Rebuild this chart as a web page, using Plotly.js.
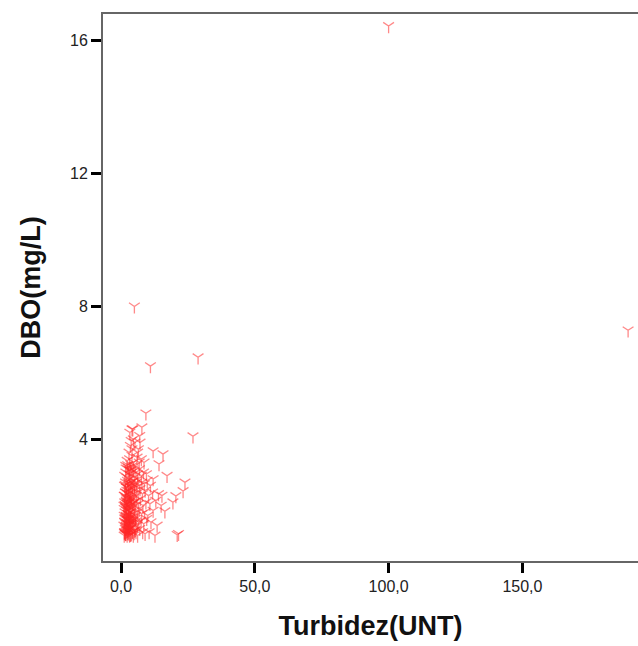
<!DOCTYPE html>
<html>
<head>
<meta charset="utf-8">
<script src="https://cdn.plot.ly/plotly-3.0.1.min.js"></script>
<style>
  html, body { margin: 0; padding: 0; background: #fff; }
  #chart { width: 638px; height: 646px; }
</style>
</head>
<body>
<div id="chart"></div>
<script>
// Turbidez (UNT) values
const turbidez = [
  // y ~1.1-1.3
  1.2,1.5,1.8,2.0,2.3,2.6,2.9,3.2,3.5,3.8,4.2,4.6,5.1,5.6,6.2,7.0,8.1,9.0,10.5,12.7,21.0,21.5,
  // y ~1.3-1.6
  1.1,1.4,1.7,2.1,2.4,2.7,3.0,3.3,3.7,4.0,4.4,4.9,5.4,6.0,6.6,7.5,8.5,9.6,11.2,13.5,
  // y ~1.6-1.9
  1.2,1.5,1.9,2.2,2.5,2.8,3.1,3.4,3.8,4.1,4.5,5.0,5.5,6.1,6.8,7.7,8.8,10.0,12.0,16.4,
  // y ~1.9-2.2
  1.1,1.4,1.8,2.0,2.3,2.6,3.0,3.3,3.6,4.0,4.3,4.8,5.3,5.9,6.5,7.2,8.2,9.3,10.8,13.0,15.0,19.4,
  // y ~2.2-2.5
  1.2,1.6,1.9,2.2,2.5,2.9,3.2,3.5,3.9,4.2,4.7,5.2,5.8,6.4,7.1,8.0,9.0,10.3,11.8,14.0,15.3,20.5,23.2,
  // y ~2.5-2.8
  1.3,1.7,2.0,2.4,2.7,3.0,3.4,3.8,4.1,4.6,5.1,5.7,6.3,7.0,7.8,8.7,9.8,11.0,12.0,
  // y ~2.8-3.1
  1.4,1.8,2.2,2.6,3.0,3.3,3.7,4.1,4.5,5.0,5.6,6.2,6.9,7.6,8.4,9.5,17.2,23.9,
  // y ~3.1-3.6
  1.8,2.3,2.8,3.2,3.6,4.1,4.7,5.3,6.0,6.8,7.6,8.6,14.2,15.7,12.0,
  // y ~3.6-4.4
  3.0,3.5,4.1,4.6,5.2,3.3,4.4,6.5,7.0,7.8,4.1,7.1,3.8,6.2,
  // dense core extra
  1.3,1.6,2.0,2.4,2.8,3.2,3.6,1.5,1.9,2.3,2.7,3.1,3.5,1.2,1.7,2.1,2.6,3.0,3.4,1.4,1.8,2.2,2.9,3.3,
  1.6,2.0,2.5,2.9,3.4,1.9,2.4,2.8,3.3,1.5,2.1,2.6,3.1,3.6,1.8,2.3,2.7,3.2,
  1.3,1.7,2.2,2.7,3.1,3.7,4.3,4.9,5.4,1.4,1.9,2.5,3.0,3.6,4.2,4.8,5.5,6.1,
  1.5,2.0,2.6,3.2,3.9,4.5,5.2,1.6,2.1,2.8,3.5,4.2,5.0,5.9,1.9,2.5,3.3,4.0,4.8,
  // outliers
  9.3,26.9,11.0,28.8,5.0,100.0,189.5
];

// DBO (mg/L) values
const dbo = [
  1.10,1.20,1.15,1.30,1.10,1.25,1.20,1.10,1.30,1.15,1.20,1.10,1.25,1.20,1.10,1.30,1.20,1.15,1.20,1.10,1.12,1.15,
  1.40,1.50,1.35,1.60,1.45,1.55,1.40,1.60,1.50,1.35,1.55,1.45,1.60,1.40,1.50,1.55,1.45,1.60,1.50,1.40,
  1.70,1.80,1.65,1.90,1.75,1.85,1.70,1.80,1.90,1.65,1.75,1.85,1.70,1.80,1.90,1.75,1.80,1.70,1.85,1.83,
  2.00,2.10,1.95,2.15,2.05,2.20,2.00,2.10,1.95,2.20,2.05,2.10,2.00,2.15,2.05,2.20,2.00,2.10,2.05,2.15,2.00,2.10,
  2.30,2.40,2.25,2.45,2.35,2.50,2.30,2.40,2.25,2.50,2.35,2.45,2.30,2.40,2.50,2.35,2.45,2.30,2.40,2.35,2.30,2.29,2.44,
  2.60,2.70,2.55,2.75,2.60,2.80,2.65,2.70,2.55,2.75,2.60,2.70,2.80,2.60,2.70,2.65,2.75,2.60,2.80,
  2.90,3.00,2.85,3.10,2.95,3.05,2.90,3.00,3.10,2.85,3.00,2.95,3.10,2.90,3.00,2.95,2.90,2.70,
  3.20,3.35,3.15,3.40,3.25,3.50,3.30,3.20,3.45,3.30,3.40,3.30,3.25,3.55,3.64,
  3.60,3.80,3.70,4.00,3.90,4.20,4.30,3.70,4.10,4.36,4.30,3.90,3.95,3.60,
  1.20,1.30,1.40,1.25,1.35,1.50,1.45,1.60,1.70,1.55,1.75,1.65,1.80,1.90,2.00,1.85,2.10,1.95,2.20,2.30,2.40,2.20,2.45,2.35,
  1.15,1.22,1.18,1.28,1.12,1.38,1.48,1.42,1.33,1.62,1.68,1.58,1.72,1.66,1.95,2.05,1.88,2.25,
  1.18,1.14,1.24,1.16,1.28,1.12,1.22,1.17,1.26,1.52,1.46,1.58,1.43,1.56,1.48,1.62,1.52,1.44,
  2.02,2.12,2.08,1.98,2.16,2.06,2.12,2.62,2.55,2.68,2.58,2.72,2.64,2.56,3.12,3.22,3.08,3.18,3.05,
  4.78,4.09,6.20,6.47,8.00,16.45,7.28
];

const xTickVals = [0, 50, 100, 150];
const yTickVals = [4, 8, 12, 16];

const trace = {
  type: 'scatter',
  mode: 'markers',
  x: turbidez,
  y: dbo,
  marker: {
    symbol: 'y-down-open',
    size: 9,
    color: 'rgba(255,40,40,0.55)',
    line: { color: 'rgba(255,40,40,0.55)', width: 1.3 }
  },
  hoverinfo: 'x+y',
  cliponaxis: false
};

const axisFont = { family: 'Liberation Sans, Arial, sans-serif', size: 16, color: '#222' };
const titleFont = { family: 'Liberation Sans, Arial, sans-serif', size: 27, color: '#111', weight: 'bold' };

const layout = {
  width: 638,
  height: 646,
  margin: { l: 103, r: 0, t: 14, b: 85 },
  paper_bgcolor: '#fff',
  plot_bgcolor: '#fff',
  separators: ',.',
  showlegend: false,
  xaxis: {
    range: [-6.73, 193.2],
    tickvals: xTickVals,
    tickformat: '.1f',
    ticks: 'outside', ticklen: 10, tickwidth: 3, tickcolor: '#000',
    showline: true, linecolor: '#666', linewidth: 2, mirror: true,
    showgrid: false, zeroline: false,
    tickfont: axisFont,
    title: { text: 'Turbidez(UNT)', font: titleFont, standoff: 22 }
  },
  yaxis: {
    range: [0.33, 16.81],
    tickvals: yTickVals,
    ticks: 'outside', ticklen: 10, tickwidth: 3, tickcolor: '#000',
    showline: true, linecolor: '#666', linewidth: 2, mirror: false,
    showgrid: false, zeroline: false,
    tickfont: axisFont,
    title: { text: 'DBO(mg/L)', font: titleFont, standoff: 22 }
  }
};

Plotly.newPlot('chart', [trace], layout, { displayModeBar: false, staticPlot: true });
</script>
</body>
</html>
